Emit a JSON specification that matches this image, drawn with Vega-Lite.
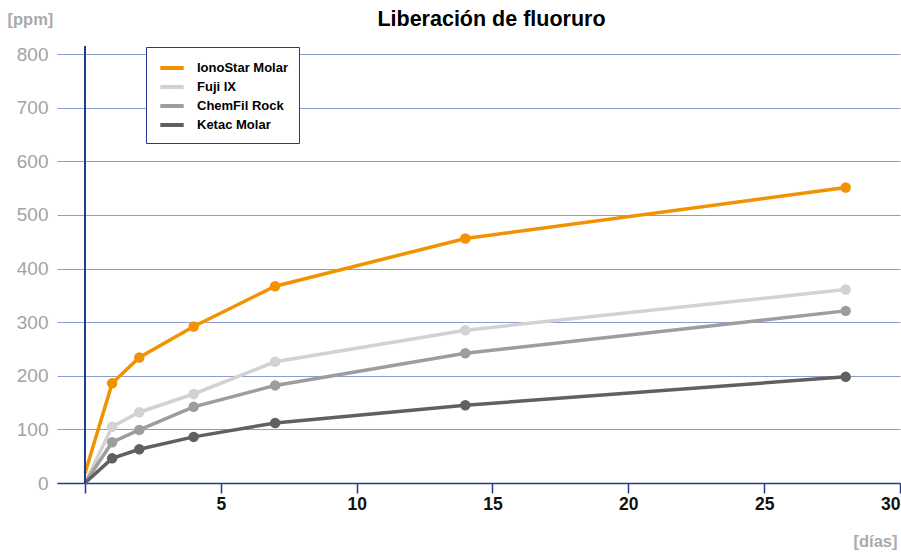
{
  "$schema": "https://vega.github.io/schema/vega-lite/v6.json",
  "width": 843,
  "height": 437,
  "autosize": {"type": "none"},
  "padding": {"left": 57, "top": 46, "right": 1, "bottom": 69},
  "background": "white",
  "config": {
    "font": "Liberation Sans",
    "view": {"stroke": null}
  },
  "title": {
    "text": "Liberación de fluoruro",
    "fontSize": 21.5,
    "fontWeight": "bold",
    "color": "#000000",
    "anchor": "middle",
    "dx": 13,
    "offset": -19
  },
  "data": {
    "values": [
      {"serie": "IonoStar Molar", "dias": 0, "ppm": 18},
      {"serie": "IonoStar Molar", "dias": 1, "ppm": 186},
      {"serie": "IonoStar Molar", "dias": 2, "ppm": 234},
      {"serie": "IonoStar Molar", "dias": 4, "ppm": 292},
      {"serie": "IonoStar Molar", "dias": 7, "ppm": 367},
      {"serie": "IonoStar Molar", "dias": 14, "ppm": 456},
      {"serie": "IonoStar Molar", "dias": 28, "ppm": 551},
      {"serie": "Fuji IX", "dias": 0, "ppm": 0},
      {"serie": "Fuji IX", "dias": 1, "ppm": 105},
      {"serie": "Fuji IX", "dias": 2, "ppm": 132},
      {"serie": "Fuji IX", "dias": 4, "ppm": 166},
      {"serie": "Fuji IX", "dias": 7, "ppm": 226},
      {"serie": "Fuji IX", "dias": 14, "ppm": 285},
      {"serie": "Fuji IX", "dias": 28, "ppm": 361},
      {"serie": "ChemFil Rock", "dias": 0, "ppm": 0},
      {"serie": "ChemFil Rock", "dias": 1, "ppm": 76},
      {"serie": "ChemFil Rock", "dias": 2, "ppm": 99},
      {"serie": "ChemFil Rock", "dias": 4, "ppm": 142},
      {"serie": "ChemFil Rock", "dias": 7, "ppm": 182},
      {"serie": "ChemFil Rock", "dias": 14, "ppm": 242},
      {"serie": "ChemFil Rock", "dias": 28, "ppm": 321},
      {"serie": "Ketac Molar", "dias": 0, "ppm": 0},
      {"serie": "Ketac Molar", "dias": 1, "ppm": 46},
      {"serie": "Ketac Molar", "dias": 2, "ppm": 63},
      {"serie": "Ketac Molar", "dias": 4, "ppm": 86},
      {"serie": "Ketac Molar", "dias": 7, "ppm": 112},
      {"serie": "Ketac Molar", "dias": 14, "ppm": 145},
      {"serie": "Ketac Molar", "dias": 28, "ppm": 198}
    ]
  },
  "encoding": {
    "x": {
      "field": "dias",
      "type": "quantitative",
      "scale": {"domain": [-1.03, 30], "nice": false, "zero": false},
      "axis": {
        "values": [0, 5, 10, 15, 20, 25, 30],
        "labelExpr": "datum.value == 0 ? '' : datum.label",
        "grid": false,
        "domainColor": "#1f3c8f",
        "domainWidth": 1.5,
        "tickColor": "#1f3c8f",
        "tickWidth": 1.5,
        "tickSize": 10,
        "labelFontSize": 17.5,
        "labelFontWeight": "bold",
        "labelColor": "#111111",
        "labelPadding": 2,
        "title": "[días]",
        "titleFontSize": 16.5,
        "titleFontWeight": "bold",
        "titleColor": "#aaaaaa",
        "titleAlign": "right",
        "titleAnchor": "end",
        "titleX": 840,
        "titleY": 63,
        "titleBaseline": "alphabetic"
      }
    },
    "y": {
      "field": "ppm",
      "type": "quantitative",
      "scale": {"domain": [0, 815], "nice": false},
      "axis": {
        "values": [0, 100, 200, 300, 400, 500, 600, 700, 800],
        "domain": false,
        "ticks": false,
        "grid": true,
        "gridColor": "#8e9ad2",
        "gridWidth": 1,
        "labelFontSize": 19,
        "labelColor": "#a3a3a3",
        "labelPadding": 9,
        "title": "[ppm]",
        "titleFontSize": 16.5,
        "titleFontWeight": "bold",
        "titleColor": "#aaaaaa",
        "titleAngle": 0,
        "titleAlign": "left",
        "titleX": -50,
        "titleY": -22,
        "titleBaseline": "alphabetic"
      }
    },
    "color": {
      "field": "serie",
      "type": "nominal",
      "scale": {
        "domain": ["IonoStar Molar", "Fuji IX", "ChemFil Rock", "Ketac Molar"],
        "range": ["#f39200", "#d2d2d2", "#9d9d9d", "#606060"]
      },
      "legend": {
        "title": null,
        "orient": "none",
        "legendX": 89,
        "legendY": 1,
        "direction": "vertical",
        "fillColor": "white",
        "strokeColor": "#1f3c8f",
        "padding": 10,
        "rowPadding": 0,
        "symbolOffset": 5,
        "symbolType": "M-1.3,0H1.3",
        "symbolSize": 324,
        "symbolStrokeWidth": 4,
        "labelFontSize": 13,
        "labelFontWeight": "bold",
        "labelColor": "#000000",
        "labelOffset": 14
      }
    }
  },
  "layer": [
    {
      "mark": {"type": "line", "strokeWidth": 3.5}
    },
    {
      "transform": [{"filter": "datum.dias > 0"}],
      "mark": {"type": "point", "filled": true, "size": 110, "opacity": 1}
    },
    {
      "mark": {"type": "rule", "color": "#1f3c8f", "strokeWidth": 1.5},
      "encoding": {"x": {"datum": 0}, "y": null, "color": null}
    }
  ]
}
